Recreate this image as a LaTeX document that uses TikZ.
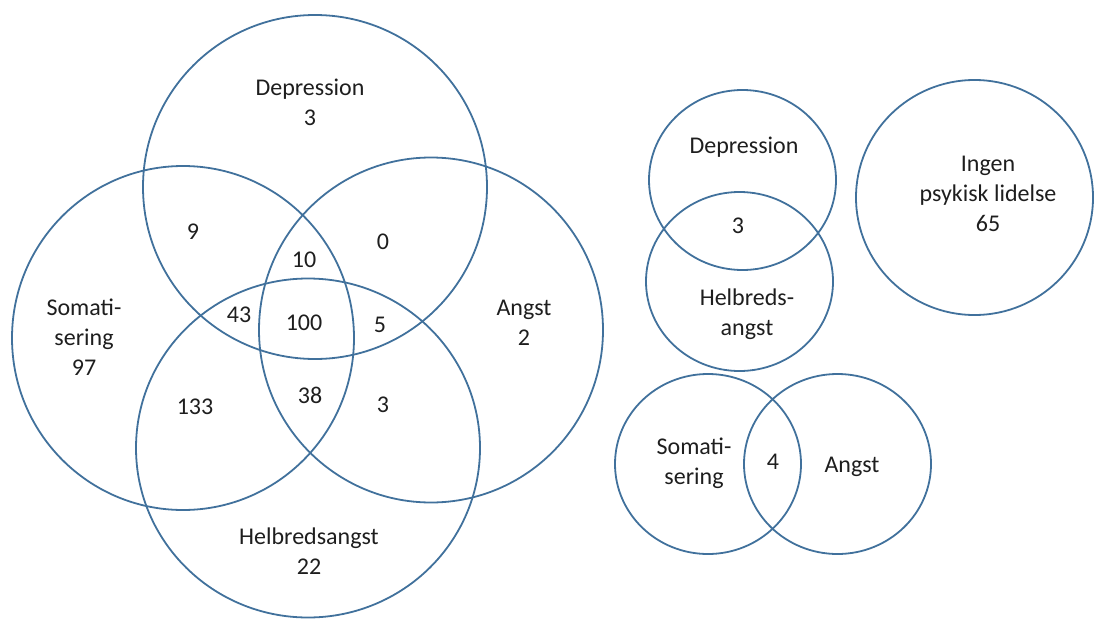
\documentclass[tikz,border=0pt]{standalone}
\usepackage{fontspec}
\setmainfont{Carlito}
\usetikzlibrary{shapes.geometric}
\definecolor{ringblue}{RGB}{65,113,156}
\definecolor{txt}{RGB}{30,30,30}
\tikzset{
  ring/.style={ellipse, draw=ringblue, line width=1.8pt, inner sep=0pt, outer sep=0pt},
  lbl/.style={align=center, text=txt, inner sep=0pt, font=\fontsize{24}{30}\selectfont},
}
\begin{document}
\begin{tikzpicture}[x=1pt,y=-1pt]
\useasboundingbox (0,0) rectangle (1094,618);
% big Venn
\node[ring, minimum width=344pt, minimum height=344pt] (dep) at (315,187) {};
\node[ring, minimum width=342pt, minimum height=344pt] (som) at (183,338) {};
\node[ring, minimum width=344pt, minimum height=345pt] (ang) at (431,330) {};
\node[ring, minimum width=344pt, minimum height=339pt] (hel) at (308,448) {};
\node[lbl] (tdep) at (310,102) {Depression\\3};
\node[lbl] (tsom) at (84,337) {Somati-\\sering\\97};
\node[lbl] (tang) at (524,323) {Angst\\2};
\node[lbl] (thel) at (309,551) {Helbredsangst\\22};
\node[lbl] (n9) at (193,232) {9};
\node[lbl] (n0) at (383,242) {0};
\node[lbl] (n10) at (304,260) {10};
\node[lbl] (n43) at (239,315) {43};
\node[lbl] (n100) at (304,323) {100};
\node[lbl] (n5) at (380,325) {5};
\node[lbl] (n133) at (195,407) {133};
\node[lbl] (n38) at (310,395) {38};
\node[lbl] (n3b) at (383,405) {3};
% small pairs
\node[ring, minimum width=187pt, minimum height=180pt] (sdep) at (742.5,180) {};
\node[ring, minimum width=187pt, minimum height=179pt] (shel) at (739.5,281.5) {};
\node[ring, minimum width=237pt, minimum height=235pt] (ingen) at (974.5,197.5) {};
\node[ring, minimum width=186pt, minimum height=180pt] (ssom) at (708,464) {};
\node[ring, minimum width=187pt, minimum height=180pt] (sang) at (837.5,464) {};
\node[lbl] (tsdep) at (744,147) {Depression};
\node[lbl] (ts3) at (738,226) {3};
\node[lbl] (tshel) at (747,314) {Helbreds-\\angst};
\node[lbl] (tingen) at (988,194) {Ingen\\psykisk lidelse\\65};
\node[lbl] (tssom) at (694,463) {Somati-\\sering};
\node[lbl] (ts4) at (773,462) {4};
\node[lbl] (tsang) at (852,467) {Angst};
\end{tikzpicture}
\end{document}
